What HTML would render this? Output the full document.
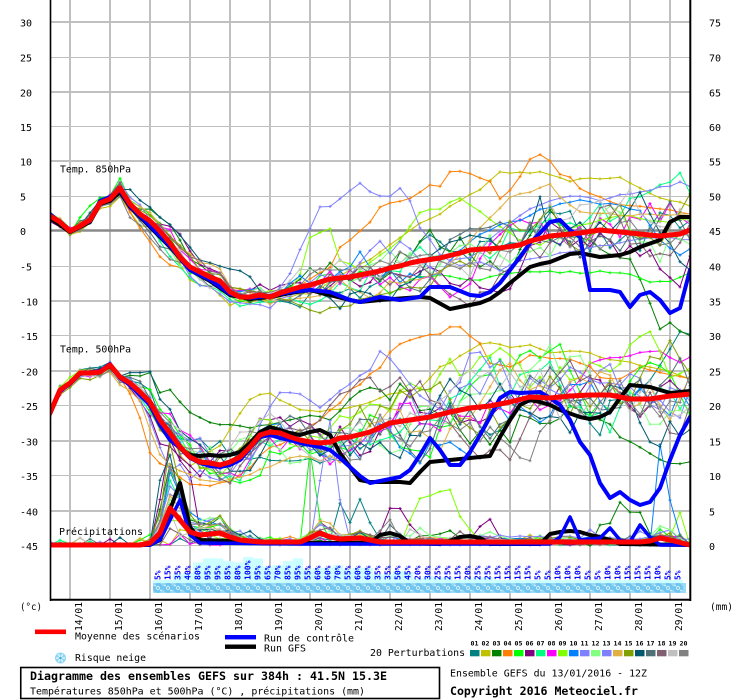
<!DOCTYPE html>
<html><head><meta charset="utf-8">
<style>
html,body{margin:0;padding:0;background:#fff;}
svg{display:block;}
text{font-family:"DejaVu Sans Mono","Liberation Mono",monospace;}
</style></head><body>
<svg id="c" width="740" height="700" viewBox="0 0 740 700" xmlns="http://www.w3.org/2000/svg">
<defs><clipPath id="pc"><rect x="50" y="0" width="640" height="600"/></clipPath></defs>
<rect width="740" height="700" fill="#fff"/>
<g id="grid" fill="none">
<g stroke="#c0c0c0" stroke-width="2">
<line x1="70" y1="0" x2="70" y2="600"/><line x1="110" y1="0" x2="110" y2="600"/><line x1="150" y1="0" x2="150" y2="600"/><line x1="190" y1="0" x2="190" y2="600"/><line x1="230" y1="0" x2="230" y2="600"/><line x1="270" y1="0" x2="270" y2="600"/><line x1="310" y1="0" x2="310" y2="600"/><line x1="350" y1="0" x2="350" y2="600"/><line x1="390" y1="0" x2="390" y2="600"/><line x1="430" y1="0" x2="430" y2="600"/><line x1="470" y1="0" x2="470" y2="600"/><line x1="510" y1="0" x2="510" y2="600"/><line x1="550" y1="0" x2="550" y2="600"/><line x1="590" y1="0" x2="590" y2="600"/><line x1="630" y1="0" x2="630" y2="600"/><line x1="670" y1="0" x2="670" y2="600"/>
<line x1="50" y1="22" x2="690" y2="22"/><line x1="50" y1="92" x2="690" y2="92"/><line x1="50" y1="161" x2="690" y2="161"/><line x1="50" y1="301" x2="690" y2="301"/><line x1="50" y1="371" x2="690" y2="371"/><line x1="50" y1="441" x2="690" y2="441"/><line x1="50" y1="511" x2="690" y2="511"/>
</g>
<g stroke="#c0c0c0" stroke-width="1">
<line x1="50" y1="57.5" x2="690" y2="57.5"/><line x1="50" y1="126.5" x2="690" y2="126.5"/><line x1="50" y1="196.5" x2="690" y2="196.5"/><line x1="50" y1="266.5" x2="690" y2="266.5"/><line x1="50" y1="335.5" x2="690" y2="335.5"/><line x1="50" y1="405.5" x2="690" y2="405.5"/><line x1="50" y1="475.5" x2="690" y2="475.5"/><line x1="50" y1="545.5" x2="690" y2="545.5"/>
</g>
<line x1="50" y1="230.5" x2="690" y2="230.5" stroke="#8a8a8a" stroke-width="2.4"/>
</g>
<g id="bars"></g>
<g fill="#0000ff" font-size="8" font-weight="bold">
<text transform="translate(160.5,580) rotate(-90)" textLength="9.5" lengthAdjust="spacingAndGlyphs">5%</text>
<text transform="translate(170.5,580) rotate(-90)" textLength="14.5" lengthAdjust="spacingAndGlyphs">15%</text>
<text transform="translate(180.5,580) rotate(-90)" textLength="14.5" lengthAdjust="spacingAndGlyphs">35%</text>
<text transform="translate(190.5,580) rotate(-90)" textLength="14.5" lengthAdjust="spacingAndGlyphs">40%</text>
<text transform="translate(200.5,580) rotate(-90)" textLength="14.5" lengthAdjust="spacingAndGlyphs">80%</text>
<text transform="translate(210.5,580) rotate(-90)" textLength="14.5" lengthAdjust="spacingAndGlyphs">95%</text>
<text transform="translate(220.5,580) rotate(-90)" textLength="14.5" lengthAdjust="spacingAndGlyphs">95%</text>
<text transform="translate(230.5,580) rotate(-90)" textLength="14.5" lengthAdjust="spacingAndGlyphs">85%</text>
<text transform="translate(240.5,580) rotate(-90)" textLength="14.5" lengthAdjust="spacingAndGlyphs">80%</text>
<text transform="translate(250.5,580) rotate(-90)" textLength="19.5" lengthAdjust="spacingAndGlyphs">100%</text>
<text transform="translate(260.5,580) rotate(-90)" textLength="14.5" lengthAdjust="spacingAndGlyphs">95%</text>
<text transform="translate(270.5,580) rotate(-90)" textLength="14.5" lengthAdjust="spacingAndGlyphs">65%</text>
<text transform="translate(280.5,580) rotate(-90)" textLength="14.5" lengthAdjust="spacingAndGlyphs">70%</text>
<text transform="translate(290.5,580) rotate(-90)" textLength="14.5" lengthAdjust="spacingAndGlyphs">85%</text>
<text transform="translate(300.5,580) rotate(-90)" textLength="14.5" lengthAdjust="spacingAndGlyphs">95%</text>
<text transform="translate(310.5,580) rotate(-90)" textLength="14.5" lengthAdjust="spacingAndGlyphs">55%</text>
<text transform="translate(320.5,580) rotate(-90)" textLength="14.5" lengthAdjust="spacingAndGlyphs">60%</text>
<text transform="translate(330.5,580) rotate(-90)" textLength="14.5" lengthAdjust="spacingAndGlyphs">60%</text>
<text transform="translate(340.5,580) rotate(-90)" textLength="14.5" lengthAdjust="spacingAndGlyphs">70%</text>
<text transform="translate(350.5,580) rotate(-90)" textLength="14.5" lengthAdjust="spacingAndGlyphs">55%</text>
<text transform="translate(360.5,580) rotate(-90)" textLength="14.5" lengthAdjust="spacingAndGlyphs">60%</text>
<text transform="translate(370.5,580) rotate(-90)" textLength="14.5" lengthAdjust="spacingAndGlyphs">60%</text>
<text transform="translate(380.5,580) rotate(-90)" textLength="14.5" lengthAdjust="spacingAndGlyphs">35%</text>
<text transform="translate(390.5,580) rotate(-90)" textLength="14.5" lengthAdjust="spacingAndGlyphs">35%</text>
<text transform="translate(400.5,580) rotate(-90)" textLength="14.5" lengthAdjust="spacingAndGlyphs">50%</text>
<text transform="translate(410.5,580) rotate(-90)" textLength="14.5" lengthAdjust="spacingAndGlyphs">45%</text>
<text transform="translate(420.5,580) rotate(-90)" textLength="14.5" lengthAdjust="spacingAndGlyphs">20%</text>
<text transform="translate(430.5,580) rotate(-90)" textLength="14.5" lengthAdjust="spacingAndGlyphs">30%</text>
<text transform="translate(440.5,580) rotate(-90)" textLength="14.5" lengthAdjust="spacingAndGlyphs">25%</text>
<text transform="translate(450.5,580) rotate(-90)" textLength="14.5" lengthAdjust="spacingAndGlyphs">25%</text>
<text transform="translate(460.5,580) rotate(-90)" textLength="14.5" lengthAdjust="spacingAndGlyphs">15%</text>
<text transform="translate(470.5,580) rotate(-90)" textLength="14.5" lengthAdjust="spacingAndGlyphs">20%</text>
<text transform="translate(480.5,580) rotate(-90)" textLength="14.5" lengthAdjust="spacingAndGlyphs">25%</text>
<text transform="translate(490.5,580) rotate(-90)" textLength="14.5" lengthAdjust="spacingAndGlyphs">25%</text>
<text transform="translate(500.5,580) rotate(-90)" textLength="14.5" lengthAdjust="spacingAndGlyphs">15%</text>
<text transform="translate(510.5,580) rotate(-90)" textLength="14.5" lengthAdjust="spacingAndGlyphs">15%</text>
<text transform="translate(520.5,580) rotate(-90)" textLength="14.5" lengthAdjust="spacingAndGlyphs">15%</text>
<text transform="translate(530.5,580) rotate(-90)" textLength="14.5" lengthAdjust="spacingAndGlyphs">15%</text>
<text transform="translate(540.5,580) rotate(-90)" textLength="9.5" lengthAdjust="spacingAndGlyphs">5%</text>
<text transform="translate(550.5,580) rotate(-90)" textLength="9.5" lengthAdjust="spacingAndGlyphs">5%</text>
<text transform="translate(560.5,580) rotate(-90)" textLength="14.5" lengthAdjust="spacingAndGlyphs">10%</text>
<text transform="translate(570.5,580) rotate(-90)" textLength="14.5" lengthAdjust="spacingAndGlyphs">10%</text>
<text transform="translate(580.5,580) rotate(-90)" textLength="14.5" lengthAdjust="spacingAndGlyphs">10%</text>
<text transform="translate(590.5,580) rotate(-90)" textLength="9.5" lengthAdjust="spacingAndGlyphs">5%</text>
<text transform="translate(600.5,580) rotate(-90)" textLength="9.5" lengthAdjust="spacingAndGlyphs">5%</text>
<text transform="translate(610.5,580) rotate(-90)" textLength="14.5" lengthAdjust="spacingAndGlyphs">10%</text>
<text transform="translate(620.5,580) rotate(-90)" textLength="14.5" lengthAdjust="spacingAndGlyphs">10%</text>
<text transform="translate(630.5,580) rotate(-90)" textLength="14.5" lengthAdjust="spacingAndGlyphs">15%</text>
<text transform="translate(640.5,580) rotate(-90)" textLength="14.5" lengthAdjust="spacingAndGlyphs">15%</text>
<text transform="translate(650.5,580) rotate(-90)" textLength="14.5" lengthAdjust="spacingAndGlyphs">15%</text>
<text transform="translate(660.5,580) rotate(-90)" textLength="14.5" lengthAdjust="spacingAndGlyphs">10%</text>
<text transform="translate(670.5,580) rotate(-90)" textLength="9.5" lengthAdjust="spacingAndGlyphs">5%</text>
<text transform="translate(680.5,580) rotate(-90)" textLength="9.5" lengthAdjust="spacingAndGlyphs">5%</text>
</g>
<g id="snowrow"></g>
<g id="series" clip-path="url(#pc)"></g>
<g id="axes" stroke="#000" fill="none">
<line x1="50.5" y1="0" x2="50.5" y2="601" stroke-width="1.6"/>
<line x1="690.3" y1="0" x2="690.3" y2="601" stroke-width="2"/>
<line x1="50" y1="599.8" x2="691" y2="599.8" stroke-width="2"/>
</g>
<g font-size="10" fill="#000">
<text x="20" y="26.5">30</text><text x="20" y="61.5">25</text><text x="20" y="96.5">20</text><text x="20" y="131">15</text><text x="20" y="165.5">10</text><text x="20" y="200.5">5</text><text x="20" y="235">0</text><text x="20" y="270.5">-5</text><text x="20" y="305.5">-10</text><text x="20" y="340">-15</text><text x="20" y="375.5">-20</text><text x="20" y="410">-25</text><text x="20" y="445.5">-30</text><text x="20" y="480">-35</text><text x="20" y="515.5">-40</text><text x="20" y="550">-45</text>
<text x="709" y="26.5">75</text><text x="709" y="61.5">70</text><text x="709" y="96.5">65</text><text x="709" y="131">60</text><text x="709" y="165.5">55</text><text x="709" y="200.5">50</text><text x="709" y="235">45</text><text x="709" y="270.5">40</text><text x="709" y="305.5">35</text><text x="709" y="340">30</text><text x="709" y="375.5">25</text><text x="709" y="410">20</text><text x="709" y="445.5">15</text><text x="709" y="480">10</text><text x="709" y="515.5">5</text><text x="709" y="550">0</text>
<text x="60" y="172.5" textLength="71" lengthAdjust="spacingAndGlyphs">Temp. 850hPa</text>
<text x="60" y="352.5" textLength="71" lengthAdjust="spacingAndGlyphs">Temp. 500hPa</text>
<text x="59" y="535" textLength="84" lengthAdjust="spacingAndGlyphs">Précipitations</text>
<text x="20" y="610" textLength="22" lengthAdjust="spacingAndGlyphs">(°c)</text>
<text x="710" y="610" textLength="23" lengthAdjust="spacingAndGlyphs">(mm)</text>
<text transform="translate(82,631) rotate(-90)" textLength="29" lengthAdjust="spacingAndGlyphs">14/01</text>
<text transform="translate(122,631) rotate(-90)" textLength="29" lengthAdjust="spacingAndGlyphs">15/01</text>
<text transform="translate(162,631) rotate(-90)" textLength="29" lengthAdjust="spacingAndGlyphs">16/01</text>
<text transform="translate(202,631) rotate(-90)" textLength="29" lengthAdjust="spacingAndGlyphs">17/01</text>
<text transform="translate(242,631) rotate(-90)" textLength="29" lengthAdjust="spacingAndGlyphs">18/01</text>
<text transform="translate(282,631) rotate(-90)" textLength="29" lengthAdjust="spacingAndGlyphs">19/01</text>
<text transform="translate(322,631) rotate(-90)" textLength="29" lengthAdjust="spacingAndGlyphs">20/01</text>
<text transform="translate(362,631) rotate(-90)" textLength="29" lengthAdjust="spacingAndGlyphs">21/01</text>
<text transform="translate(402,631) rotate(-90)" textLength="29" lengthAdjust="spacingAndGlyphs">22/01</text>
<text transform="translate(442,631) rotate(-90)" textLength="29" lengthAdjust="spacingAndGlyphs">23/01</text>
<text transform="translate(482,631) rotate(-90)" textLength="29" lengthAdjust="spacingAndGlyphs">24/01</text>
<text transform="translate(522,631) rotate(-90)" textLength="29" lengthAdjust="spacingAndGlyphs">25/01</text>
<text transform="translate(562,631) rotate(-90)" textLength="29" lengthAdjust="spacingAndGlyphs">26/01</text>
<text transform="translate(602,631) rotate(-90)" textLength="29" lengthAdjust="spacingAndGlyphs">27/01</text>
<text transform="translate(642,631) rotate(-90)" textLength="29" lengthAdjust="spacingAndGlyphs">28/01</text>
<text transform="translate(682,631) rotate(-90)" textLength="29" lengthAdjust="spacingAndGlyphs">29/01</text>
<text x="75" y="639.5" textLength="125" lengthAdjust="spacingAndGlyphs">Moyenne des scénarios</text>
<text x="264" y="641.5" textLength="90" lengthAdjust="spacingAndGlyphs">Run de contrôle</text>
<text x="264" y="651.5" textLength="42" lengthAdjust="spacingAndGlyphs">Run GFS</text>
<text x="75" y="661" textLength="71" lengthAdjust="spacingAndGlyphs">Risque neige</text>
<text x="370" y="656" textLength="95" lengthAdjust="spacingAndGlyphs">20 Perturbations</text>
<text x="30" y="694.5" textLength="335" lengthAdjust="spacingAndGlyphs">Températures 850hPa et 500hPa (°C) , précipitations (mm)</text>
<text x="450" y="676.5" textLength="197" lengthAdjust="spacingAndGlyphs">Ensemble GEFS du 13/01/2016 - 12Z</text>
</g>
<g font-size="11.5" font-weight="bold" fill="#000">
<text x="30" y="680" textLength="357" lengthAdjust="spacingAndGlyphs">Diagramme des ensembles GEFS sur 384h : 41.5N 15.3E</text>
<text x="450" y="695" textLength="188" lengthAdjust="spacingAndGlyphs">Copyright 2016 Meteociel.fr</text>
</g>
<g font-size="6.5" font-weight="bold" fill="#000">
<text x="470.5" y="645.5" textLength="8" lengthAdjust="spacingAndGlyphs">01</text><text x="481.5" y="645.5" textLength="8" lengthAdjust="spacingAndGlyphs">02</text><text x="492.5" y="645.5" textLength="8" lengthAdjust="spacingAndGlyphs">03</text><text x="503.5" y="645.5" textLength="8" lengthAdjust="spacingAndGlyphs">04</text><text x="514.5" y="645.5" textLength="8" lengthAdjust="spacingAndGlyphs">05</text><text x="525.5" y="645.5" textLength="8" lengthAdjust="spacingAndGlyphs">06</text><text x="536.5" y="645.5" textLength="8" lengthAdjust="spacingAndGlyphs">07</text><text x="547.5" y="645.5" textLength="8" lengthAdjust="spacingAndGlyphs">08</text><text x="558.5" y="645.5" textLength="8" lengthAdjust="spacingAndGlyphs">09</text><text x="569.5" y="645.5" textLength="8" lengthAdjust="spacingAndGlyphs">10</text><text x="580.5" y="645.5" textLength="8" lengthAdjust="spacingAndGlyphs">11</text><text x="591.5" y="645.5" textLength="8" lengthAdjust="spacingAndGlyphs">12</text><text x="602.5" y="645.5" textLength="8" lengthAdjust="spacingAndGlyphs">13</text><text x="613.5" y="645.5" textLength="8" lengthAdjust="spacingAndGlyphs">14</text><text x="624.5" y="645.5" textLength="8" lengthAdjust="spacingAndGlyphs">15</text><text x="635.5" y="645.5" textLength="8" lengthAdjust="spacingAndGlyphs">16</text><text x="646.5" y="645.5" textLength="8" lengthAdjust="spacingAndGlyphs">17</text><text x="657.5" y="645.5" textLength="8" lengthAdjust="spacingAndGlyphs">18</text><text x="668.5" y="645.5" textLength="8" lengthAdjust="spacingAndGlyphs">19</text><text x="679.5" y="645.5" textLength="8" lengthAdjust="spacingAndGlyphs">20</text>
</g>
<g id="boxes"></g>
<rect x="35" y="629.5" width="31" height="4.6" fill="#ff0000"/>
<rect x="225" y="635" width="31" height="4.4" fill="#0000ff"/>
<rect x="225" y="644.5" width="31" height="4.4" fill="#000"/>
<g transform="translate(60.5,658)">
<circle r="5.5" fill="#8fd6f5"/>
<g stroke="#e8f8ff" stroke-width="1.2"><line x1="-4.5" y1="0" x2="4.5" y2="0"/><line x1="-2.2" y1="-3.9" x2="2.2" y2="3.9"/><line x1="-2.2" y1="3.9" x2="2.2" y2="-3.9"/></g>
<circle r="1.3" fill="#4aa8e0"/>
</g>
<rect x="20.75" y="667.5" width="418.75" height="31" fill="none" stroke="#000" stroke-width="1.6"/>
</svg>
<script>
(function(){
var NS='http://www.w3.org/2000/svg';
function el(tag,attrs,parent){var e=document.createElementNS(NS,tag);for(var k in attrs)e.setAttribute(k,attrs[k]);parent.appendChild(e);return e;}
var C=['#008080','#c0c000','#008000','#ff8000','#00ff00','#800080','#00ff80','#ff00ff','#80ff00','#0080ff','#8080ff','#80ff80','#8080ff','#e0b040','#80a000','#005870','#507078','#806070','#c0c0c0','#808080'];
// boxes
var bx=document.getElementById('boxes');
for(var k=0;k<20;k++)el('rect',{x:470+11*k,y:650,width:9.5,height:6.3,fill:C[k]},bx);
// snow bars
var P=[5,15,35,40,80,95,95,85,80,100,95,65,70,85,95,55,60,60,70,55,60,60,35,35,50,45,20,30,25,25,15,20,25,25,15,15,15,15,5,5,10,10,10,5,5,10,10,15,15,15,10,5,5];
var bars=document.getElementById('bars');
for(var i=0;i<P.length;i++){var h=Math.max(3,0.27*P[i]-1);el('rect',{x:153+10*i,y:583-h,width:10,height:h,fill:'#ccffff'},bars);}
var sr=document.getElementById('snowrow');
el('rect',{x:153,y:583,width:533,height:10,fill:'#9cdaf5'},sr);
for(var i=0;i<P.length;i++){var cx=158+10*i;
 el('circle',{cx:cx,cy:588,r:5,fill:'#6ec4ee'},sr);
 el('circle',{cx:cx,cy:588,r:2.2,fill:'#c4ecfc'},sr);
 el('circle',{cx:cx-3,cy:585.5,r:0.9,fill:'#e6f7ff'},sr);
 el('circle',{cx:cx+3,cy:590.5,r:0.9,fill:'#e6f7ff'},sr);
 el('circle',{cx:cx,cy:588,r:0.8,fill:'#3a9ed8'},sr);}
// series
var g=document.getElementById('series');
var s=987654321;
function rnd(){s=(Math.imul(s,1664525)+1013904223)>>>0;return s/4294967296;}
function ip(p,x){if(x<=p[0][0])return p[0][1];for(var j=1;j<p.length;j++){if(x<=p[j][0]){var a=p[j-1],b=p[j];return a[1]+(b[1]-a[1])*(x-a[0])/(b[0]-a[0]);}}return p[p.length-1][1];}
var X=[];for(var i=0;i<=64;i++)X.push(50+10*i);
function pert(mean,spr,jit){var o=(rnd()*2-1)*1.6;var ys=[];for(var i=0;i<X.length;i++){var x=X[i];o=0.82*o+(rnd()*2-1)*0.95;ys.push(ip(mean,x)+ip(spr,x)*o+(rnd()*2-1)*jit);}return ys;}
function applyOv(ys,segs,jit){if(!segs)return ys;segs.forEach(function(ov){var x0=ov[0][0],x1=ov[ov.length-1][0],B=30;ys=ys.map(function(y,i){var x=X[i];if(x>=x0&&x<=x1)return ip(ov,x)+(rnd()*2-1)*jit;var w=0,e=0;if(x<x0&&x>x0-B){w=1-(x0-x)/B;e=ov[0][1];}else if(x>x1&&x<x1+B){w=1-(x-x1)/B;e=ov[ov.length-1][1];}return w>0?y*(1-w)+e*w:y;});});return ys;}
function line(ys,color,w,markers){var pts=X.map(function(x,i){return x+','+ys[i].toFixed(1);}).join(' ');
 el('polyline',{points:pts,fill:'none',stroke:color,'stroke-width':w,'stroke-linejoin':'round','stroke-linecap':'round'},g);
 if(markers){var d='';X.forEach(function(x,i){var y=ys[i];d+='M'+(x-1.5)+','+y.toFixed(1)+'h3M'+x+','+(y-1.5).toFixed(1)+'v3';});el('path',{d:d,stroke:color,'stroke-width':1,fill:'none'},g);}}
function fromPts(p){return X.map(function(x){return ip(p,x);});}

var M850=[[50,216],[60,222],[70,231],[80,226],[90,220],[100,203],[110,199],[120,188],[130,204],[140,214],[150,221],[160,231],[170,243],[180,257],[190,267],[200,272],[210,277],[220,281],[230,292],[240,297],[250,297],[260,295],[270,297],[280,293],[290,290],[300,287],[310,285],[320,282],[330,279],[340,278],[350,277],[360,275],[370,273],[380,271],[390,268],[400,266],[410,263],[420,261],[440,258],[460,253],[470,250],[500,248],[520,245],[530,241],[550,236],[580,233],[600,230],[620,232],[640,234],[660,236],[680,234],[690,230]];
var S850=[[50,2.5],[110,3],[130,5],[160,9],[200,8],[240,5],[280,6],[320,12],[400,17],[500,20],[690,24]];
var M500=[[50,413],[60,390],[70,383],[80,373],[90,373],[100,372],[110,365],[120,377],[130,383],[140,392],[150,402],[160,420],[170,433],[180,447],[190,457],[200,462],[210,463],[220,465],[230,462],[240,457],[250,447],[260,435],[270,432],[280,433],[290,437],[300,440],[310,442],[320,443],[330,442],[340,438],[350,437],[370,432],[390,423],[410,420],[430,417],[450,412],[470,408],[490,406],[510,402],[530,397],[550,398],[570,396],[590,395],[610,395],[630,399],[650,399],[670,396],[690,394]];
var S500=[[50,2.5],[110,3],[140,6],[170,14],[200,15],[240,15],[300,13],[340,18],[400,22],[500,24],[690,28]];
var MP=[[50,545],[140,545],[150,543],[160,533],[170,508],[180,520],[190,532],[200,535],[220,533],[230,537],[240,540],[260,542],[300,542],[310,538],[320,533],[330,537],[340,539],[360,538],[380,542],[450,542],[640,542],[650,541],[660,538],[670,540],[690,545]];

var OV850={
3:[[[120,192],[130,212],[140,228],[150,242],[160,258],[170,265],[180,267],[190,270],[200,275],[220,283],[240,290],[260,296],[280,293],[300,285],[310,280],[320,273],[330,268],[340,248],[350,240],[360,232],[370,222],[380,208],[390,203],[400,202],[410,198],[430,185],[440,187],[450,171],[470,173],[490,182],[500,200],[510,190],[520,177],[530,160],[540,155],[550,162],[560,175],[570,178],[580,188],[590,193],[600,198],[620,205],[640,207],[660,210],[680,212],[690,213]]],
10:[[[270,298],[280,287],[290,273],[300,250],[310,230],[320,208],[330,207],[340,198],[350,190],[360,182],[370,192],[380,195],[390,195],[400,187],[410,202],[420,227],[430,240],[440,255],[460,265],[480,262],[500,270],[520,262],[540,258],[560,252],[580,250],[600,246],[620,243],[640,240],[660,238],[690,240]]],
12:[[[480,250],[500,230],[520,215],[540,205],[560,198],[580,196],[600,200],[620,195],[640,192],[650,190],[660,188],[680,183],[690,187]]],
1:[[[320,290],[340,275],[360,265],[380,253],[400,237],[420,223],[440,213],[460,200],[480,190],[500,173],[520,172],[540,172],[560,177],[570,182],[590,178],[620,178],[640,187],[660,198],[690,205]]],
13:[[[400,283],[420,280],[440,273],[460,255],[470,240],[490,217],[510,198],[530,192],[550,183],[560,197],[580,212],[620,215],[690,215]]],
2:[[[600,250],[620,258],[630,258],[645,290],[660,328],[670,322],[680,330],[690,335]]],
8:[[[290,290],[300,275],[310,237],[320,233],[330,230],[340,260],[360,270],[380,255],[400,240],[420,212],[440,208],[460,197],[480,212],[500,227],[520,240],[540,245],[560,235],[580,225],[600,220],[620,215],[640,218],[660,222],[690,220]]],
4:[[[100,198],[110,195],[120,178],[130,200]],[[440,275],[460,278],[480,280],[500,275],[520,273],[540,272],[580,272],[620,272],[650,282],[670,282],[690,272]]],
14:[[[280,298],[290,300],[300,305],[310,310],[320,313],[330,308],[350,305],[360,300],[380,295],[400,290]]],
9:[[[460,250],[480,235],[500,225],[520,220],[540,210],[560,203],[580,200],[600,203],[620,205],[640,212],[660,240],[680,255],[690,250]]],
15:[[[110,198],[120,190],[130,190],[140,200],[150,208],[160,217],[170,225],[180,235],[190,248],[200,260],[210,263],[220,265],[230,268],[240,270],[250,278],[260,290],[270,295]],[[500,250],[520,245],[530,230],[540,197],[550,240],[560,245]]],
5:[[[150,222],[160,225],[170,227],[180,235],[190,252],[200,265]]]
};
var OV500={
3:[[[110,366],[120,378],[130,393],[140,417],[150,452],[160,463],[170,468],[180,478],[190,483],[200,486],[210,486],[220,484],[230,480],[240,476],[250,468],[260,455],[270,448],[280,445],[290,440],[300,432],[320,420],[340,402],[350,390],[360,385],[370,375],[380,368],[390,353],[400,345],[420,337],[440,333],[450,327],[460,327],[480,343],[490,363],[510,367],[520,363],[530,355],[550,358],[570,360],[590,367],[600,377],[620,380],[640,368],[660,372],[690,380]]],
1:[[[250,400],[260,395],[270,393],[280,400],[300,410],[320,412],[340,408],[360,405],[370,402],[390,395],[420,388],[440,367],[460,357],[480,343],[490,342],[510,347],[530,345],[550,352],[570,350],[590,353],[610,360],[630,363],[660,370],[690,378]]],
2:[[[130,376],[140,375],[150,373],[160,393],[170,390],[190,412],[210,422],[230,425],[250,428],[270,425],[290,420],[310,415]],[[590,415],[610,425],[620,437],[640,447],[650,453],[660,460],[670,463],[690,463]]],
7:[[[540,410],[560,400],[580,380],[590,363],[610,358],[640,353],[660,352],[680,363],[690,358]]],
10:[[[280,392],[300,395],[320,407],[330,400],[340,390],[350,383],[360,375],[370,370],[380,352],[390,358],[400,370],[410,385],[420,395],[440,410]]],
13:[[[130,390],[140,400],[150,430],[160,455],[170,465],[180,470],[190,475],[200,480],[220,482],[240,478],[260,470],[280,462],[300,455]]],
15:[[[110,366],[120,375],[130,372],[140,372],[150,372],[160,400],[170,410],[180,430],[190,440],[200,445]]],
0:[[[630,400],[650,380],[670,350],[680,332],[690,335]]]
};
var OVP={
5:[[[150,545],[160,500],[170,440],[180,460],[190,472],[200,530],[210,540]],[[370,545],[380,533],[390,508],[400,508],[410,525],[420,535],[430,542]],[[460,543],[470,540],[480,527],[490,520],[500,537],[510,543]]],
15:[[[150,545],[160,480],[170,455],[180,500],[190,530]]],
2:[[[150,545],[160,510],[170,465],[180,480],[190,520]],[[590,545],[600,525],[610,523],[620,502],[630,512],[640,512],[650,533],[660,545]]],
4:[[[160,530],[170,470],[180,490],[190,525]],[[300,545],[310,450],[320,520],[330,540]]],
10:[[[310,545],[320,480],[330,420],[340,500],[350,540]]],
9:[[[640,545],[650,545],[660,445],[670,500],[680,535],[690,545]]],
8:[[[400,545],[410,520],[420,498],[430,495],[440,492],[450,490],[460,517],[470,530],[480,540]],[[660,540],[670,537],[680,513],[690,545]]],
0:[[[330,540],[340,503],[350,522],[360,499],[370,522],[380,540]]],
16:[[[370,542],[380,540],[390,525],[400,535],[410,542]]],
18:[[[400,545],[410,530],[420,535],[430,542]]],
19:[[[370,540],[380,530],[390,520],[400,540]]]
};
function precip(){var d=(rnd()*2-1)*1.2;var ys=[];for(var i=0;i<X.length;i++){var x=X[i];d=0.9*d+(rnd()*2-1)*0.6;var mp=545-ip(MP,x);var f=Math.max(0,1+d);var n=rnd()<0.12?rnd()*9:rnd()*2.2;var p=mp*f+n-0.8;if(p<0)p=0;ys.push(545-p);}return ys;}
for(var k=0;k<20;k++){
 var a=applyOv(pert(M850,S850,1.5),OV850[k],1.2);
 var b=applyOv(pert(M500,S500,1.5),OV500[k],1.2);
 var c=applyOv(precip(),OVP[k],0.8);
 c=c.map(function(y){return Math.min(545.5,y);});
 line(a,C[k],1,true);line(b,C[k],1,true);line(c,C[k],1,true);
}
// GFS
line(fromPts([[50,218],[70,232],[90,222],[100,204],[110,201],[120,192],[130,207],[150,227],[170,247],[190,270],[210,281],[230,295],[250,299],[270,297],[290,293],[310,290],[330,295],[350,300],[360,302],[380,300],[420,297],[430,298],[450,309],[480,303],[490,299],[500,292],[510,283],[520,275],[530,267],[540,264],[550,262],[560,258],[570,254],[580,253],[590,255],[600,257],[620,255],[630,252],[640,247],[660,240],[670,222],[680,217],[690,217]]),'#000',4,false);
line(fromPts([[50,414],[60,391],[70,383],[80,373],[100,372],[110,366],[120,378],[130,383],[140,393],[150,403],[160,422],[170,437],[180,448],[190,455],[200,456],[210,455],[220,456],[230,455],[240,452],[250,443],[260,432],[270,427],[280,430],[290,433],[300,435],[310,432],[320,430],[330,435],[340,453],[350,467],[360,480],[370,482],[400,482],[410,483],[420,472],[430,462],[450,460],[470,458],[490,456],[500,437],[510,420],[520,405],[530,400],[540,402],[550,405],[560,410],[580,417],[590,419],[600,417],[610,412],[620,398],[630,385],[650,387],[670,393],[690,391]]),'#000',4,false);
line(fromPts([[50,545],[150,545],[160,540],[170,510],[180,483],[190,527],[200,540],[300,543],[370,543],[380,535],[390,533],[400,536],[410,543],[440,544],[450,541],[460,537],[470,536],[480,538],[490,544],[540,544],[550,534],[560,532],[570,531],[580,532],[590,535],[600,537],[610,540],[620,544],[690,545]]),'#000',4,false);
// Control
line(fromPts([[50,214],[70,231],[90,221],[100,201],[110,197],[120,190],[130,206],[150,226],[170,246],[190,270],[210,280],[230,294],[250,298],[270,296],[290,292],[310,290],[330,292],[350,300],[360,302],[380,297],[400,300],[420,297],[430,287],[450,287],[470,295],[480,296],[490,292],[500,283],[510,270],[520,257],[530,243],[540,233],[550,222],[560,220],[570,230],[580,237],[590,290],[610,290],[620,292],[630,307],[640,295],[650,292],[660,300],[670,313],[680,308],[690,270]]),'#0000ff',4,false);
line(fromPts([[50,413],[60,391],[70,384],[80,374],[100,371],[110,364],[120,378],[130,385],[140,395],[150,405],[160,425],[170,440],[180,448],[190,458],[200,463],[210,466],[220,467],[230,465],[240,460],[250,448],[260,437],[270,435],[280,438],[290,440],[300,443],[320,447],[330,450],[340,458],[350,467],[360,476],[370,483],[390,479],[400,477],[410,470],[420,455],[430,438],[440,450],[450,465],[460,465],[470,452],[480,435],[490,417],[500,398],[510,392],[520,393],[540,392],[550,398],[560,405],[570,420],[580,442],[590,455],[600,483],[610,498],[620,492],[630,500],[640,505],[650,502],[660,488],[670,460],[680,435],[690,417]]),'#0000ff',4,false);
line(fromPts([[50,545],[150,545],[160,540],[170,520],[180,500],[190,535],[200,543],[300,544],[550,544],[560,537],[570,517],[580,540],[600,538],[610,528],[620,540],[630,542],[640,525],[650,537],[660,545],[690,545]]),'#0000ff',3.5,false);
// Mean
line(fromPts(M850),'#ff0000',5,false);
line(fromPts(M500),'#ff0000',5,false);
line(fromPts(MP),'#ff0000',5,false);
})();
</script>
</body></html>
